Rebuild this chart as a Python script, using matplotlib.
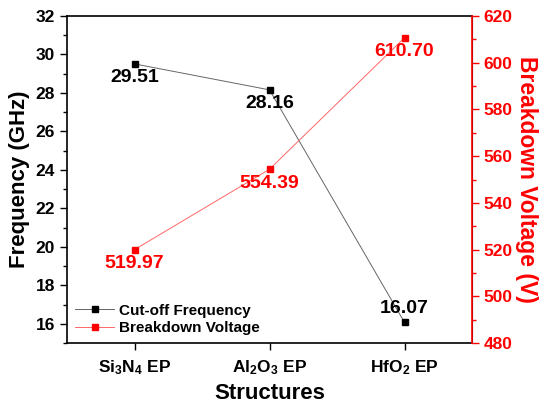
import matplotlib
matplotlib.use("Agg")
import matplotlib.pyplot as plt
from matplotlib.ticker import MultipleLocator

plt.rcParams["font.family"] = ["Liberation Sans", "DejaVu Sans"]
plt.rcParams["font.weight"] = "bold"
plt.rcParams["mathtext.fontset"] = "custom"
plt.rcParams["mathtext.rm"] = "Liberation Sans:bold"
plt.rcParams["mathtext.bf"] = "Liberation Sans:bold"
plt.rcParams["mathtext.it"] = "Liberation Sans:bold"

structures = [r"Si$_3$N$_4$ EP", r"Al$_2$O$_3$ EP", r"HfO$_2$ EP"]
cutoff_freq = [29.51, 28.16, 16.07]
breakdown_v = [519.97, 554.39, 610.70]

fig = plt.figure(figsize=(5.5, 4.04), dpi=100)
ax = fig.add_axes([67 / 550, 1 - 343 / 404, 405 / 550, 327 / 404])
ax2 = ax.twinx()

x = list(range(len(structures)))
ax.plot(x, cutoff_freq, color="#666666", lw=0.7, marker="s", ms=5,
        mfc="black", mec="black", label="Cut-off Frequency")
ax2.plot(x, breakdown_v, color="#ff6666", lw=0.7, marker="s", ms=5,
         mfc="red", mec="red", label="Breakdown Voltage")

# label offsets in points (last black label sits above its marker)
freq_offsets = [(0, -4), (0, -4), (0, 4)]
volt_offsets = [(0, -4), (0, -4), (0, -4)]
for xi, v, off in zip(x, cutoff_freq, freq_offsets):
    ax.annotate(f"{v:.2f}", (xi, v), xytext=off, textcoords="offset points",
                ha="center", va="top" if off[1] < 0 else "bottom",
                fontsize=14, fontweight="bold", color="black")
for xi, v, off in zip(x, breakdown_v, volt_offsets):
    ax2.annotate(f"{v:.2f}", (xi, v), xytext=off, textcoords="offset points",
                 ha="center", va="top", fontsize=14, fontweight="bold", color="red")

ax.set_xlim(-0.5, 2.5)
ax.set_ylim(15, 32)
ax2.set_ylim(480, 620)
ax.set_xticks(x)
ax.set_xticklabels(structures)
ax.yaxis.set_major_locator(MultipleLocator(2))
ax.yaxis.set_minor_locator(MultipleLocator(1))
ax2.yaxis.set_major_locator(MultipleLocator(20))
ax2.yaxis.set_minor_locator(MultipleLocator(10))

ax.tick_params(axis="both", which="both", direction="out", labelsize=12.5, width=1)
ax.tick_params(axis="y", which="major", length=5)
ax.tick_params(axis="y", which="minor", length=3)
ax.tick_params(axis="x", which="major", length=5, pad=6)
ax2.tick_params(axis="y", which="both", direction="out", colors="red", labelsize=12.5, width=1)
ax2.tick_params(axis="y", which="major", length=5)
ax2.tick_params(axis="y", which="minor", length=3)

for s in ["left", "bottom", "top"]:
    ax.spines[s].set_linewidth(1.2)
ax2.spines["right"].set_color("red")
ax2.spines["right"].set_linewidth(1.2)
ax2.spines["left"].set_visible(False)
ax2.spines["top"].set_visible(False)
ax2.spines["bottom"].set_visible(False)

ax.set_xlabel("Structures", fontsize=16, fontweight="bold", labelpad=4)
ax.set_ylabel("Frequency (GHz)", fontsize=16, fontweight="bold", labelpad=4)
ax2.set_ylabel("Breakdown Voltage (V)", fontsize=16.5, fontweight="bold",
               color="red", rotation=270, labelpad=18)

h1, l1 = ax.get_legend_handles_labels()
h2, l2 = ax2.get_legend_handles_labels()
ax.legend(h1 + h2, l1 + l2, loc="lower left", frameon=False,
          prop={"family": ["Liberation Sans"], "weight": "bold", "size": 11},
          handlelength=2.6, borderaxespad=0.1, labelspacing=0.25, handletextpad=0.3)

fig.savefig("out.png", dpi=100)
